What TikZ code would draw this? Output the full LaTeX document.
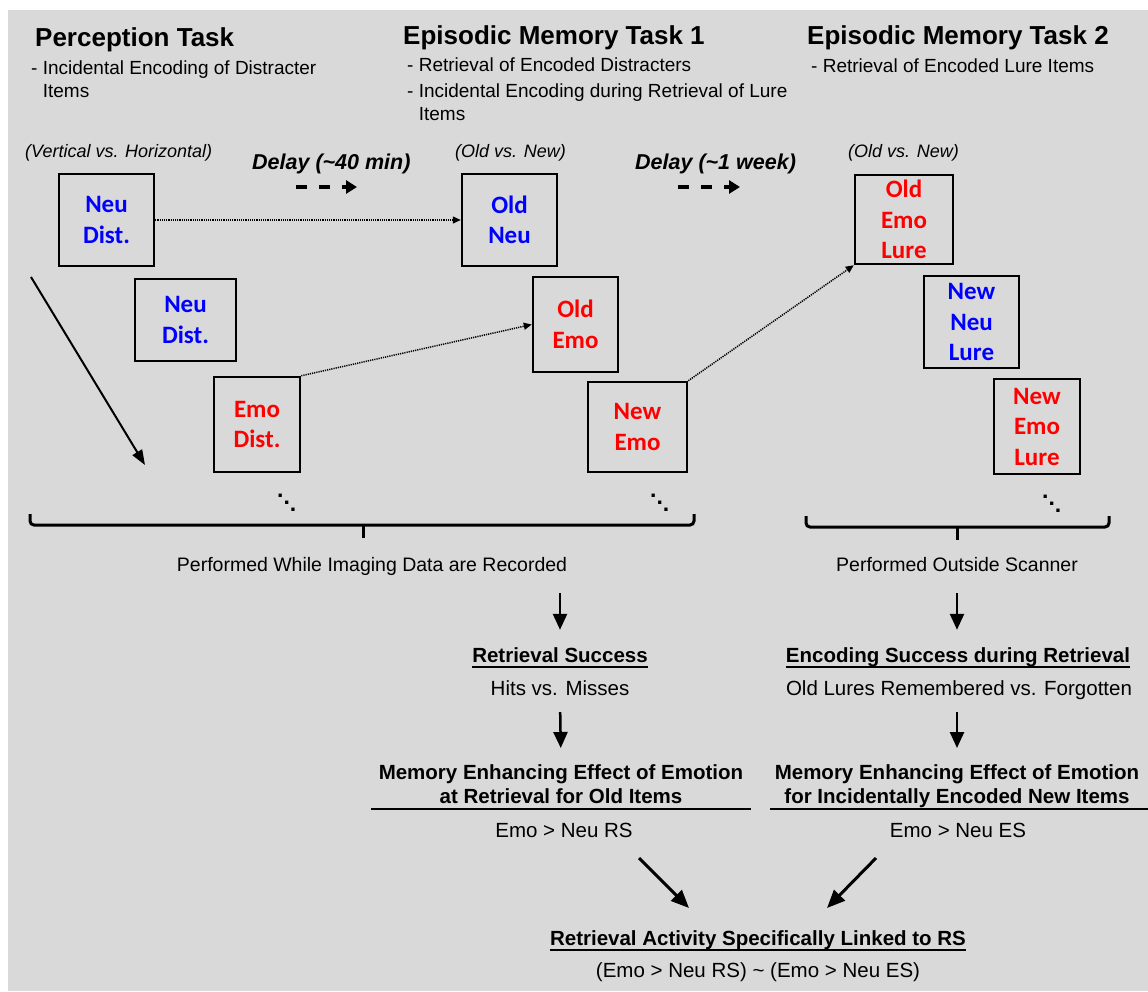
\documentclass[tikz,border=0pt]{standalone}
\usepackage{fontspec}
\setmainfont{Liberation Sans}
\newfontfamily\itemfont{Carlito}
\usetikzlibrary{arrows.meta,positioning}
\definecolor{bgGrey}{HTML}{D9D9D9}
\definecolor{itemBlue}{HTML}{0000FF}
\definecolor{itemRed}{HTML}{FF0000}
% underlined heading text (thick rule just below the baseline)
\newcommand{\ulHead}[1]{\setbox0\hbox{#1}\rlap{\rule[-5.5pt]{\wd0}{2pt}}\box0}
% three dots running down to the right
\newcommand{\moreItems}{.\raisebox{-7pt}{.}\raisebox{-14pt}{.}}
\tikzset{
  taskTitle/.style={font=\fontsize{26}{31}\selectfont\bfseries,
    anchor=base west, inner sep=0pt},
  taskNote/.style={font=\fontsize{19}{23}\selectfont,
    anchor=north west, align=left, inner sep=0pt},
  respNote/.style={font=\fontsize{18}{22}\selectfont\itshape,
    anchor=base west, inner sep=0pt},
  delayLabel/.style={font=\fontsize{21.5}{26}\selectfont\bfseries\itshape,
    anchor=base west, inner sep=0pt},
  delayArrow/.style={line width=3.5pt, dash pattern=on 11pt off 12pt,
    -{Triangle[length=11pt, width=13pt]}},
  itemBox/.style={draw, line width=2.5pt, inner sep=0pt, align=center,
    font=\fontsize{25}{30.5}\itemfont\bfseries},
  linkArrow/.style={line width=1.5pt, dash pattern=on 1.2pt off 1pt,
    -{Triangle[length=8pt, width=7pt]}},
  seqArrow/.style={line width=2pt, -{Triangle[length=15pt, width=11pt]}},
  moreDots/.style={font=\fontsize{23}{23}\selectfont\bfseries,
    anchor=base west, inner sep=0pt},
  braceLine/.style={line width=3pt, rounded corners=4pt},
  perfLabel/.style={font=\fontsize{19.5}{23}\selectfont, anchor=base,
    inner sep=0pt, text height=14pt, text depth=4pt},
  lowText/.style={font=\fontsize{20.5}{24}\selectfont, anchor=base,
    inner sep=0pt, text height=15pt, text depth=4pt},
  lowHead/.style={lowText, font=\fontsize{20.5}{24}\selectfont\bfseries},
  memHead/.style={font=\fontsize{20.5}{24}\selectfont\bfseries,
    anchor=north, align=center, inner sep=0pt},
  downArrow/.style={line width=2.5pt, -{Triangle[length=16pt, width=14pt]}},
  mergeArrow/.style={line width=3pt, -{Triangle[length=18pt, width=15pt]}},
  ruleLine/.style={line width=2pt},
}
\begin{document}
\begin{tikzpicture}[x=1pt, y=-1pt]

\useasboundingbox (0,0) rectangle (1148,991);
\fill[white] (0,0) rectangle (1148,991);
\fill[bgGrey] (8,10) rectangle (1148,991);

% ============================================================
% Task headings
% ============================================================
\node[taskTitle] (ptTitle) at (35,46.5) {Perception Task};
\node[taskNote] (ptNote) at (31,61)
  {- Incidental Encoding of Distracter\\\phantom{- }Items};

\node[taskTitle] (em1Title) at (403,44.5) {Episodic Memory Task 1};
\node[taskNote] (em1Note) at (407,58)
  {- Retrieval of Encoded Distracters\\[3pt]
   - Incidental Encoding during Retrieval of Lure\\\phantom{- }Items};

\node[taskTitle] (em2Title) at (807,44.5) {Episodic Memory Task 2};
\node[taskNote] (em2Note) at (811,59) {- Retrieval of Encoded Lure Items};

% response labels and delays
\node[respNote] (ptResp)  at (25,157)  {(Vertical vs. Horizontal)};
\node[respNote] (em1Resp) at (455,157) {(Old vs. New)};
\node[respNote] (em2Resp) at (848,157) {(Old vs. New)};

\node[delayLabel] (delayA) at (252,169) {Delay (\textasciitilde40 min)};
\node[delayLabel] (delayB) at (635,169) {Delay (\textasciitilde1 week)};
\coordinate (delayAfrom) at (296,187);
\coordinate (delayAto)   at (357,187);
\coordinate (delayBfrom) at (678,187);
\coordinate (delayBto)   at (740,187);
\draw[delayArrow] (delayAfrom) -- (delayAto);
\draw[delayArrow] (delayBfrom) -- (delayBto);

% ============================================================
% Item boxes
% ============================================================
% perception task
\node[itemBox, text=itemBlue, minimum width=95, minimum height=92]
  (neuDistA) at (106.5,220) {Neu\\Dist.};
\node[itemBox, text=itemBlue, minimum width=101, minimum height=82]
  (neuDistB) at (185.5,320) {Neu\\Dist.};
\node[itemBox, text=itemRed, minimum width=86, minimum height=95]
  (emoDist) at (257,424.5) {Emo\\Dist.};

% episodic memory task 1
\node[itemBox, text=itemBlue, minimum width=95, minimum height=92]
  (oldNeu) at (509.5,220) {Old\\Neu};
\node[itemBox, text=itemRed, minimum width=85, minimum height=95]
  (oldEmo) at (575.5,324.5) {Old\\Emo};
\node[itemBox, text=itemRed, minimum width=99, minimum height=90]
  (newEmo) at (637.5,427) {New\\Emo};

% episodic memory task 2
\node[itemBox, text=itemRed, minimum width=98, minimum height=89]
  (oldEmoLure) at (904,219.5) {Old\\Emo\\Lure};
\node[itemBox, text=itemBlue, minimum width=95, minimum height=92]
  (newNeuLure) at (971.5,322) {New\\Neu\\Lure};
\node[itemBox, text=itemRed, minimum width=86, minimum height=95]
  (newEmoLure) at (1037,426.5) {New\\Emo\\Lure};

\node[moreDots] (dotsA) at (277,497)  {\moreItems};
\node[moreDots] (dotsB) at (650,497)  {\moreItems};
\node[moreDots] (dotsC) at (1042,498) {\moreItems};

% item links between tasks
\draw[linkArrow] (neuDistA.east) -- (oldNeu.west);
\draw[linkArrow] (emoDist.north east) -- (oldEmo.west);
\draw[linkArrow] (newEmo.north east) -- (oldEmoLure.south west);

% trial sequence
\coordinate (seqFrom) at (31,277);
\coordinate (seqTo)   at (145,465);
\draw[seqArrow] (seqFrom) -- (seqTo);

% ============================================================
% Braces and recording conditions
% ============================================================
\draw[braceLine] (30,514) -- (30,525) -- (694,525) -- (694,514);
\draw[braceLine] (363,525) -- (363,538);
\draw[braceLine] (806,516) -- (806,527) -- (1109,527) -- (1109,516);
\draw[braceLine] (957,527) -- (957,540);

\node[perfLabel] (perfScan) at (372,571.5)
  {Performed While Imaging Data are Recorded};
\node[perfLabel] (perfOut) at (957,571.5) {Performed Outside Scanner};

% ============================================================
% Analyses
% ============================================================
\node[lowHead] (retSucc) at (560,662) {\ulHead{Retrieval Success}};
\node[lowText] (hitsMiss) at (560,695) {Hits vs. Misses};
\node[memHead] (memOld) at (561,764)
  {Memory Enhancing Effect of Emotion\\at Retrieval for Old Items};
\node[lowText] (emoRS) at (564,837) {Emo > Neu RS};

\node[lowHead] (encSucc) at (958,662)
  {\ulHead{Encoding Success during Retrieval}};
\node[lowText] (luresRF) at (959,695) {Old Lures Remembered vs. Forgotten};
\node[memHead] (memNew) at (957,764)
  {Memory Enhancing Effect of Emotion\\for Incidentally Encoded New Items};
\node[lowText] (emoES) at (958,837) {Emo > Neu ES};

\draw[ruleLine] (371,809) -- (751,809);
\draw[ruleLine] (770,809) -- (1148,809);

\draw[downArrow, shorten <=17.5pt, shorten >=17pt]
  (retSucc.north |- perfScan.south) -- (retSucc.north);
\draw[downArrow, shorten <=13pt, shorten >=16pt]
  (hitsMiss.south) -- (memOld.north);
\draw[downArrow, shorten <=17.5pt, shorten >=17pt]
  (perfOut.south) -- (perfOut.south |- encSucc.north);
\draw[downArrow, shorten <=13pt, shorten >=16pt]
  (memNew.north |- luresRF.south) -- (memNew.north);

% combined contrast
\node[lowHead] (raLink) at (758,945)
  {\ulHead{Retrieval Activity Specifically Linked to RS}};
\node[lowText] (raFormula) at (758,977)
  {(Emo > Neu RS) \textasciitilde{} (Emo > Neu ES)};

\coordinate (rsFrom) at (639,858);
\coordinate (rsTo)   at (689,908);
\coordinate (esFrom) at (876,858);
\coordinate (esTo)   at (827,908);
\draw[mergeArrow] (rsFrom) -- (rsTo);
\draw[mergeArrow] (esFrom) -- (esTo);

\end{tikzpicture}
\end{document}
